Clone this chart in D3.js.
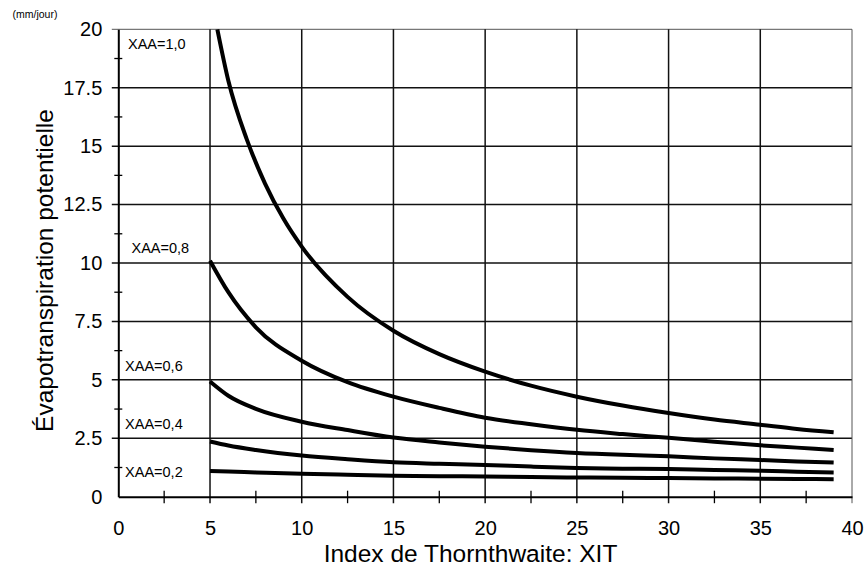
<!DOCTYPE html>
<html lang="fr">
<head>
<meta charset="utf-8">
<style>
    body { margin: 0; background: #fff; }
    text { font-family: "Liberation Sans", Arial, sans-serif; fill: #000; }
</style>
</head>
<body>
<div id="chartdiv">
    <svg id="outersvg"></svg>
</div>
<script src="https://d3js.org/d3.v7.min.js"></script>
<script>

    // values
    var xitTop = [5.4, 6, 7, 8, 9, 10, 12.5, 15, 17.5, 20, 22.5, 25, 27.5, 30, 32.5, 35, 37, 39];
    var etp10 = [20, 17.8, 15.3, 13.4, 11.9, 10.7, 8.55, 7.1, 6.1, 5.35, 4.75, 4.28, 3.9, 3.58, 3.3, 3.08, 2.9, 2.76];

    var xit = [5, 6, 7.5, 10, 12.5, 15, 17.5, 20, 22.5, 25, 27.5, 30, 32.5, 35, 37, 39];
    var etp08 = [10.1, 8.75, 7.25, 5.82, 4.9, 4.28, 3.8, 3.38, 3.1, 2.86, 2.68, 2.52, 2.35, 2.2, 2.1, 2.0];
    var etp06 = [4.93, 4.32, 3.76, 3.21, 2.85, 2.53, 2.32, 2.14, 1.99, 1.87, 1.79, 1.73, 1.64, 1.57, 1.51, 1.46];
    var etp04 = [2.36, 2.19, 2.0, 1.76, 1.6, 1.47, 1.41, 1.36, 1.29, 1.23, 1.2, 1.18, 1.14, 1.11, 1.07, 1.04];
    var etp02 = [1.1, 1.08, 1.04, 0.98, 0.94, 0.9, 0.88, 0.86, 0.84, 0.82, 0.81, 0.8, 0.78, 0.77, 0.76, 0.75];

    var curveLabels = ["XAA=1,0", "XAA=0,8", "XAA=0,6", "XAA=0,4", "XAA=0,2"];
    var labelX = [0.53, 0.72, 0.37, 0.37, 0.37];
    var labelY = [19.4, 10.67, 5.62, 3.14, 1.07];

    var xTicks = [0, 5, 10, 15, 20, 25, 30, 35, 40];
    var yTicks = [0, 2.5, 5, 7.5, 10, 12.5, 15, 17.5, 20];
    var xMinor = [2.5, 7.5, 12.5, 17.5, 22.5, 27.5, 32.5, 37.5];
    var yMinor = [1.25, 3.75, 6.25, 8.75, 11.25, 13.75, 16.25, 18.75];

    var width = 865, height = 572;
    var plotLeft = 118.3, plotRight = 852, plotTop = 29.3, plotBottom = 496.7;

    var svg = d3.select("#outersvg")
        .attr("width", width)
        .attr("height", height);

    var x = d3.scaleLinear().domain([0, 40]).range([plotLeft, plotRight]);
    var y = d3.scaleLinear().domain([0, 20]).range([plotBottom, plotTop]);

    // grid
    var grid = svg.append("g");
    grid.selectAll("line.h")
        .data(yTicks.slice(1))
        .enter()
        .append("line")
        .attr("x1", plotLeft - 6.5)
        .attr("x2", plotRight)
        .attr("y1", function (d) { return y(d); })
        .attr("y2", function (d) { return y(d); })
        .attr("stroke", function (d) { return d == 20 ? "#555" : "#111"; })
        .attr("stroke-width", function (d) { return d == 20 ? 1 : 1.5; });
    grid.selectAll("line.v")
        .data(xTicks.slice(1))
        .enter()
        .append("line")
        .attr("x1", function (d) { return x(d); })
        .attr("x2", function (d) { return x(d); })
        .attr("y1", plotTop)
        .attr("y2", plotBottom + 6.5)
        .attr("stroke", function (d) { return d == 40 ? "#555" : "#111"; })
        .attr("stroke-width", function (d) { return d == 40 ? 1 : 1.5; });

    // minor ticks
    grid.selectAll("line.ym")
        .data(yMinor)
        .enter()
        .append("line")
        .attr("x1", plotLeft - 4)
        .attr("x2", plotLeft + 4)
        .attr("y1", function (d) { return y(d); })
        .attr("y2", function (d) { return y(d); })
        .attr("stroke", "#000")
        .attr("stroke-width", 1.3);
    grid.selectAll("line.xm")
        .data(xMinor)
        .enter()
        .append("line")
        .attr("x1", function (d) { return x(d); })
        .attr("x2", function (d) { return x(d); })
        .attr("y1", plotBottom - 6)
        .attr("y2", plotBottom + 6.5)
        .attr("stroke", "#000")
        .attr("stroke-width", 1.3);

    // axes
    var xAxis = d3.axisBottom(x).tickValues(xTicks).tickSize(0).tickPadding(24);
    var gx = svg.append("g")
        .attr("transform", "translate(0," + plotBottom + ")")
        .call(xAxis);
    gx.select(".domain").attr("stroke-width", 2);
    gx.selectAll("text").attr("font-size", "20px").attr("font-family", "Liberation Sans, Arial, sans-serif");

    var yAxis = d3.axisLeft(y).tickValues(yTicks).tickSize(0).tickPadding(16)
        .tickFormat(function (d) { return String(d); });
    var gy = svg.append("g")
        .attr("transform", "translate(" + plotLeft + ",0)")
        .call(yAxis);
    gy.select(".domain").attr("stroke-width", 2);
    gy.selectAll("text").attr("font-size", "20px").attr("font-family", "Liberation Sans, Arial, sans-serif");

    // curves
    var line = d3.line()
        .x(function (d) { return x(d[0]); })
        .y(function (d) { return y(d[1]); })
        .curve(d3.curveMonotoneX);

    var series = [d3.zip(xitTop, etp10), d3.zip(xit, etp08), d3.zip(xit, etp06), d3.zip(xit, etp04), d3.zip(xit, etp02)];
    svg.append("g")
        .selectAll("path")
        .data(series)
        .enter()
        .append("path")
        .attr("d", line)
        .attr("fill", "none")
        .attr("stroke", "#000")
        .attr("stroke-width", 4)
        .attr("stroke-linecap", "butt");

    // curve labels
    svg.append("g")
        .selectAll("text")
        .data(curveLabels)
        .enter()
        .append("text")
        .attr("x", function (d, i) { return x(labelX[i]); })
        .attr("y", function (d, i) { return y(labelY[i]); })
        .attr("dy", "0.36em")
        .attr("font-size", "14.5px")
        .text(function (d) { return d; });

    // titles
    svg.append("text")
        .attr("x", 470.5)
        .attr("y", 561.5)
        .attr("text-anchor", "middle")
        .attr("font-size", "24.5px")
        .text("Index de Thornthwaite: XIT");

    svg.append("text")
        .attr("transform", "translate(53,270.5) rotate(-90)")
        .attr("text-anchor", "middle")
        .attr("font-size", "24.5px")
        .text("Évapotranspiration potentielle");

    svg.append("text")
        .attr("x", 12.5)
        .attr("y", 17.5)
        .attr("font-size", "10.5px")
        .text("(mm/jour)");

</script>
</body>
</html>
